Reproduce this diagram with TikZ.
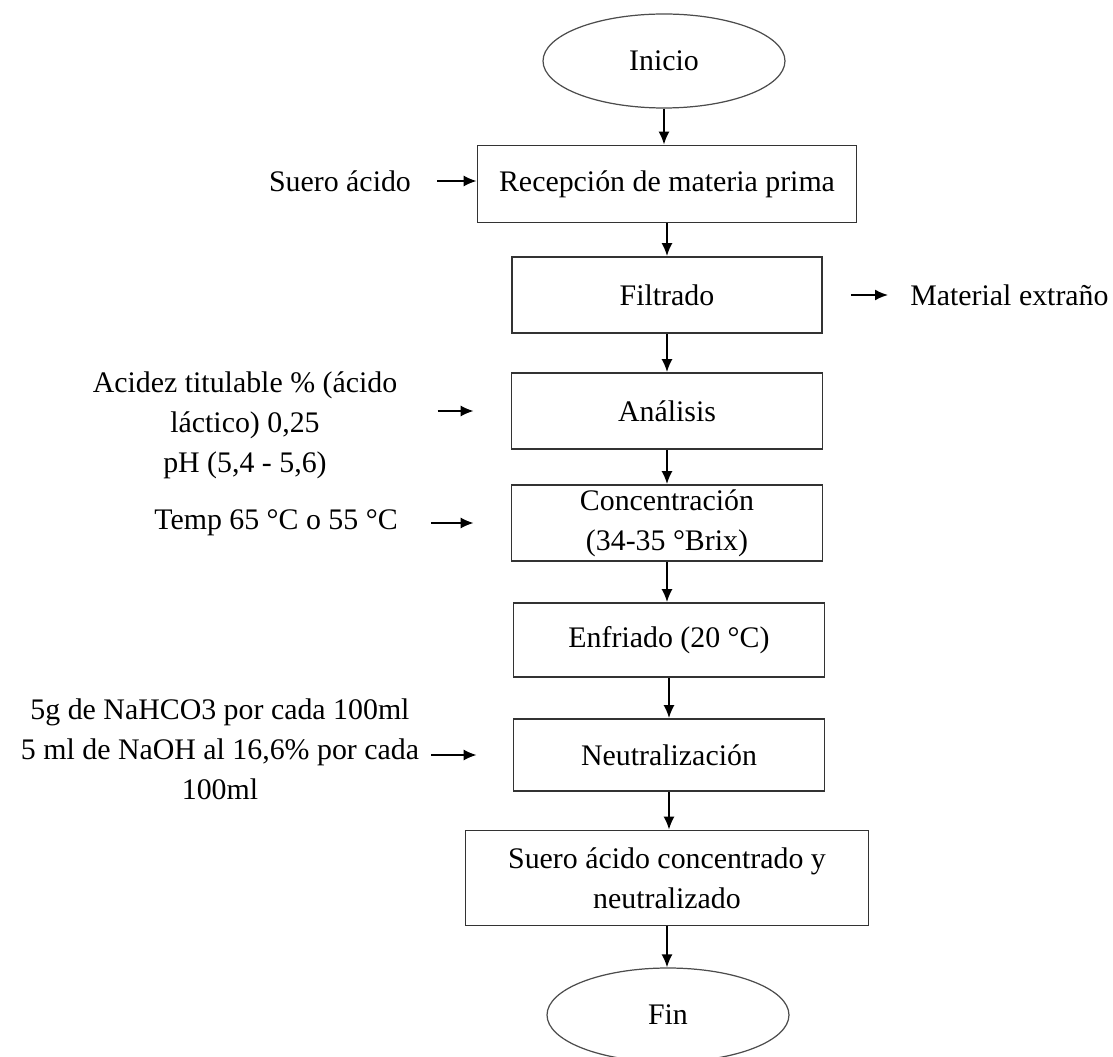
\documentclass[tikz,border=0pt]{standalone}
\usepackage{fontspec}
\setmainfont{Liberation Serif}
\usetikzlibrary{shapes.geometric,arrows.meta}

\begin{document}
\begin{tikzpicture}[x=0.02cm,y=-0.02cm,
  texto/.style={font=\fontsize{17}{22.8}\selectfont,align=center,inner sep=0pt},
  caja/.style={texto,rectangle,draw=black!80,line width=1pt,fill=white},
  terminal/.style={texto,ellipse,draw=black!70,line width=0.7pt,minimum width=4.84cm,minimum height=1.88cm},
  flecha/.style={draw=black,line width=1pt,-{Latex[length=2.6mm,width=2.2mm]}}]

\useasboundingbox (0,0) rectangle (1113,1057);

\node[terminal] (inicio) at (664, 61) {Inicio};

\node[caja,minimum width=7.58cm,minimum height=1.54cm] (recep) at (667, 184) {Recepción de materia prima};
\node[caja,minimum width=6.2cm,minimum height=1.52cm] (filtrado) at (667, 295) {Filtrado};
\node[caja,minimum width=6.22cm,minimum height=1.52cm] (analisis) at (667, 411) {Análisis};
\node[caja,minimum width=6.22cm,minimum height=1.52cm] (concen) at (667, 523) {Concentración\\(34-35 °Brix)};
\node[caja,minimum width=6.22cm,minimum height=1.48cm] (enfriado) at (669, 640) {Enfriado (20 °C)};
\node[caja,minimum width=6.22cm,minimum height=1.44cm] (neutral) at (669, 755) {Neutralización};
\node[caja,minimum width=8.06cm,minimum height=1.9cm] (suerofin) at (667, 878) {Suero ácido concentrado y\\neutralizado};

\node[terminal] (fin) at (668, 1015) {Fin};

\node[texto] (suero) at (340, 181) {Suero ácido};
\node[texto,anchor=west] (material) at (910, 295) {Material extraño};
\node[texto] (acidez) at (245, 425) {Acidez titulable \% (ácido\\láctico) 0,25\\pH (5,4 - 5,6)};
\node[texto] (temp) at (276, 523) {Temp 65 °C o 55 °C};
\node[texto] (nahco) at (220, 749) {5g de NaHCO3 por cada 100ml\\5 ml de NaOH al 16,6\% por cada\\100ml};

\path[flecha] (inicio.south) -- (inicio.south |- recep.north);
\path[flecha] (recep.south) -- (recep.south |- filtrado.north);
\path[flecha] (filtrado.south) -- (filtrado.south |- analisis.north);
\path[flecha] (analisis.south) -- (analisis.south |- concen.north);
\path[flecha] (concen.south) -- (concen.south |- enfriado.north);
\path[flecha] (enfriado.south) -- (enfriado.south |- neutral.north);
\path[flecha] (neutral.south) -- (neutral.south |- suerofin.north);
\path[flecha] (suerofin.south) -- (suerofin.south |- fin.north);

\path[flecha,shorten <=0.52cm] (suero.east) -- (recep.west |- suero.east);
\path[flecha,shorten <=0.56cm,shorten >=0.44cm] (filtrado.east) -- (material.west);
\path[flecha,shorten <=0.8cm,shorten >=0.74cm] (acidez.east |- analisis) -- (analisis.west);
\path[flecha,shorten <=0.66cm,shorten >=0.74cm] (temp.east) -- (concen.west |- temp.east);
\path[flecha,shorten <=0.24cm,shorten >=0.72cm] (nahco.east |- neutral) -- (neutral.west);
\end{tikzpicture}
\end{document}
